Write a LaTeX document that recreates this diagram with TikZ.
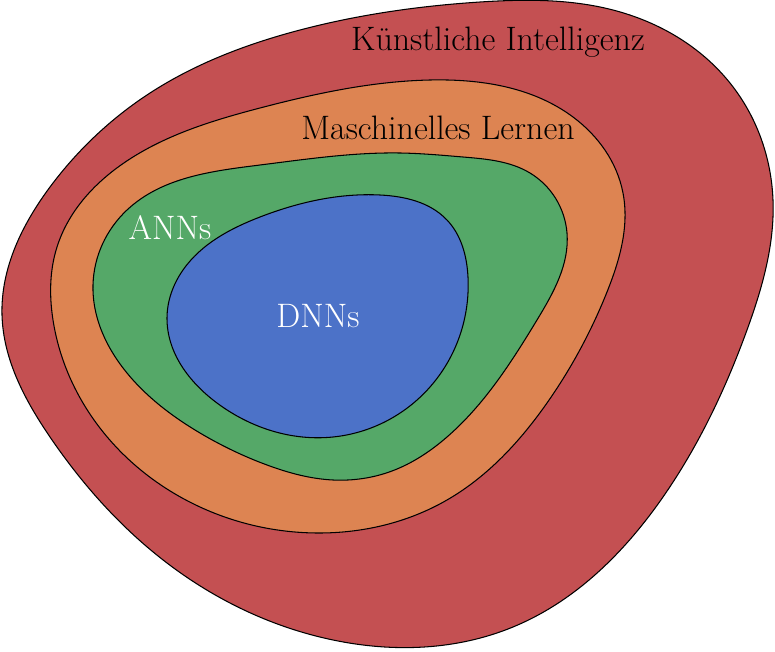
\documentclass[tikz,border=0pt]{standalone}
\usepackage{tikz}
\usetikzlibrary{positioning,hobby}
\definecolor{kiRed}{RGB}{196,80,82}
\definecolor{mlOrange}{RGB}{221,132,82}
\definecolor{annGreen}{RGB}{85,168,104}
\definecolor{dnnBlue}{RGB}{76,114,200}

\begin{document}
\begin{tikzpicture}[x=0.02cm,y=-0.02cm,
  blob/.style={draw=black,line width=0.6pt},
  lbl/.style={font=\fontsize{19.3}{23}\selectfont,inner sep=0pt},
  wlbl/.style={lbl,text=white}
]
  \useasboundingbox (0,0) rectangle (775,652);
  % sets, outermost first
  \draw[blob,fill=kiRed] plot[closed hobby] coordinates {
    (2,315) (50,437) (167,563) (333,640) (513,627) (663,497)
    (747,330) (773,200) (730,83) (613,10) (480,2) (300,30)
    (150,93) (50,187)};
  \draw[blob,fill=mlOrange] plot[closed hobby] coordinates {
    (53,320) (83,403) (200,507) (317,533) (447,500) (547,403)
    (607,292) (623,193) (573,117) (430,80) (260,108) (133,157)
    (57,247)};
  \draw[blob,fill=annGreen] plot[closed hobby] coordinates {
    (93,285) (133,380) (200,433) (267,465) (333,480) (392,471)
    (447,437) (537,320) (567,233) (530,173) (463,157) (400,153)
    (260,165) (127,210)};
  \draw[blob,fill=dnnBlue] plot[closed hobby] coordinates {
    (167,318) (217,403) (333,437) (430,387) (468,277) (447,220)
    (380,195) (260,217) (183,270)};

  \node[lbl]  (ki)  at (498,42)  {Künstliche Intelligenz};
  \node[lbl]  (ml)  at (438,128) {Maschinelles Lernen};
  \node[wlbl] (ann) at (170,228) {ANNs};
  \node[wlbl] (dnn) at (318,316) {DNNs};
\end{tikzpicture}
\end{document}
